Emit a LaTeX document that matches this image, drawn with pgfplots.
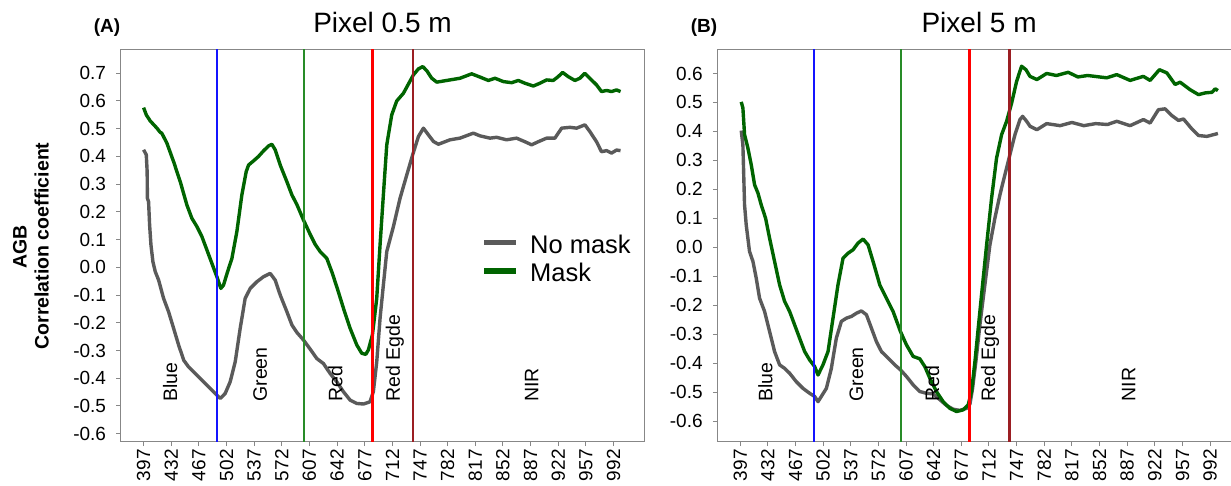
\documentclass[border=0pt]{standalone}
\usepackage{fontspec}
\setmainfont{Liberation Sans}
\usepackage{pgfplots}
\pgfplotsset{compat=1.18}
\definecolor{nomask}{RGB}{90,90,90}
\definecolor{mask}{RGB}{0,100,0}
\definecolor{vblue}{RGB}{20,20,255}
\definecolor{vgreen}{RGB}{40,140,40}
\definecolor{vred}{RGB}{255,0,0}
\definecolor{vdred}{RGB}{155,30,35}
\definecolor{axgray}{RGB}{135,135,135}
\tikzset{
  curve/.style={line width=3.4pt, line join=round},
  band/.style={rotate=90, anchor=west, inner sep=0pt, font=\fontsize{19.5}{22}\selectfont},
}
\pgfplotsset{
  panel/.style={
    scale only axis, width=523.6pt, height=392pt, anchor=south west,
    xmin=368, xmax=1031,
    xtick={397,432,...,992},
    xticklabels={397,432,467,502,537,572,607,642,677,712,747,782,817,852,887,922,957,992},
    tick align=outside, major tick length=4.5pt,
    xtick pos=left, ytick pos=left,
    axis line style={axgray, line width=1pt},
    tick style={axgray, line width=1pt},
    ticklabel style={font=\fontsize{19}{21}\selectfont, inner sep=0pt},
    xticklabel style={rotate=90, anchor=east},
    yticklabel style={anchor=east},
    xticklabel shift=3pt,
    yticklabel shift=10pt,
    title style={font=\fontsize{28}{32}\selectfont, anchor=base, at={(0.5,1)}, yshift=11.4pt},
    clip=true,
  },
}
\begin{document}
\begin{tikzpicture}
\useasboundingbox (0pt,0pt) rectangle (1231pt,485pt);
\clip (0pt,0pt) rectangle (1231pt,485pt);
% ---------------- Panel A ----------------
\begin{axis}[panel, at={(120.7pt,43.3pt)},
  ymin=-0.629, ymax=0.785,
  ytick={-0.6,-0.5,-0.4,-0.3,-0.2,-0.1,0,0.1,0.2,0.3,0.4,0.5,0.6,0.7},
  yticklabels={-0.6,-0.5,-0.4,-0.3,-0.2,-0.1,0.0,0.1,0.2,0.3,0.4,0.5,0.6,0.7},
  title={Pixel 0.5 m},
  legend style={at={(0.689,0.4617)}, anchor=west, draw=none, fill=none, inner sep=0pt,
    font=\fontsize{25.5}{28}\selectfont, row sep=0pt,
    nodes={inner xsep=0pt, inner ysep=2.4pt, text height=18.6pt, text depth=5pt}},
  legend cell align=left,
  legend image code/.code={\draw[#1, line width=5.5pt, line cap=butt] (0pt,0.38em) -- (32pt,0.38em); \path (44pt,0pt);},
]
\addplot[curve, nomask] coordinates {
(397,0.424) (400.4,0.406) (401.5,0.345) (401.8,0.249) (403.3,0.237) (404.6,0.153)
(406.3,0.081) (408.8,0.020) (411.8,-0.016) (416,-0.046) (422.3,-0.112) (428.6,-0.160)
(435,-0.220) (441.3,-0.280) (447.8,-0.335) (453.9,-0.359) (462.4,-0.383) (470.8,-0.407)
(479.2,-0.431) (487.7,-0.455) (494,-0.473) (500.3,-0.455) (506.6,-0.413) (513,-0.341)
(519.3,-0.220) (525.6,-0.112) (532,-0.076) (540.4,-0.052) (548.8,-0.034) (557.3,-0.022)
(563.6,-0.046) (570,-0.100) (578.4,-0.160) (584.8,-0.208) (591.1,-0.235) (599.4,-0.262)
(607.9,-0.295) (616.3,-0.329) (624.7,-0.347) (633.2,-0.383) (641.6,-0.413) (650.1,-0.449)
(658.5,-0.479) (666.9,-0.491) (675.3,-0.493) (683.7,-0.485) (687.9,-0.449) (692.2,-0.341)
(696.4,-0.184) (700.6,-0.064) (704.9,0.057) (713.3,0.147) (721.7,0.249) (730.2,0.333)
(737.7,0.406) (745,0.472) (751.3,0.502) (757.6,0.478) (764,0.454) (770.3,0.444)
(785,0.460) (797.6,0.466) (814.5,0.484) (823.2,0.474) (835.6,0.466) (844,0.469)
(856.6,0.460) (869.2,0.466) (879.9,0.453) (888.3,0.442) (896.7,0.453) (907.3,0.466)
(917.8,0.466) (926.3,0.502) (936.8,0.505) (945.3,0.502) (955.8,0.514) (962,0.490)
(970.5,0.453) (976.8,0.417) (983.2,0.421) (989.5,0.412) (995.8,0.423) (1000.9,0.421)
};
\addlegendentry{No mask}
\addplot[curve, mask] coordinates {
(397,0.576) (400.4,0.550) (405.4,0.528) (413.9,0.502) (418,0.487) (420,0.484)
(426.5,0.448) (435,0.381) (443.4,0.309) (451.8,0.225) (458.1,0.177) (464.5,0.147)
(470.8,0.111) (477.1,0.063) (483.5,0.014) (489.8,-0.034) (494.8,-0.076) (498.2,-0.064)
(503.3,-0.016) (508.8,0.032) (515.1,0.129) (521.4,0.261) (526.9,0.345) (529.9,0.369)
(536.2,0.384) (542.5,0.400) (548.8,0.420) (555.2,0.438) (559.4,0.444) (563.6,0.424)
(570,0.369) (578.4,0.309) (584.8,0.261) (591,0.227) (599.4,0.171) (607.9,0.119)
(614.2,0.083) (620.5,0.057) (629,0.032) (635.3,-0.016) (641.6,-0.070) (650.1,-0.148)
(658.5,-0.220) (666.9,-0.280) (673.2,-0.310) (678.3,-0.314) (681.6,-0.298) (686.7,-0.244)
(692.2,-0.112) (696.4,0.081) (700.6,0.261) (704.9,0.442) (711.2,0.550) (717.5,0.600)
(726,0.628) (732.3,0.661) (738.6,0.694) (745,0.716) (750.5,0.724) (755.6,0.709)
(761.9,0.682) (768.2,0.668) (785,0.676) (797.6,0.682) (812.4,0.698) (823.2,0.686)
(833.6,0.674) (842,0.682) (852.5,0.670) (863.1,0.666) (871.5,0.674) (879.9,0.664)
(890.5,0.654) (898.8,0.664) (907.3,0.676) (915.7,0.674) (922,0.688) (927.6,0.703)
(934.6,0.688) (943.1,0.674) (949.4,0.682) (955.7,0.700) (962,0.682) (970.5,0.658)
(976.8,0.634) (983.2,0.638) (989.5,0.634) (995.8,0.640) (1000.9,0.634)
};
\addlegendentry{Mask}
\addplot[forget plot, draw=vblue, line width=2pt] coordinates {(490,-0.7) (490,0.9)};
\addplot[forget plot, draw=vgreen, line width=2pt] coordinates {(600.2,-0.7) (600.2,0.9)};
\addplot[forget plot, draw=vred, line width=2.6pt] coordinates {(687,-0.7) (687,0.9)};
\addplot[forget plot, draw=vdred, line width=2.4pt] coordinates {(738,-0.7) (738,0.9)};
\node[band] at (axis cs:430.5,-0.485) {Blue};
\node[band] at (axis cs:544.5,-0.485) {Green};
\node[band] at (axis cs:640,-0.485) {Red};
\node[band] at (axis cs:715,-0.485) {Red Egde};
\node[band] at (axis cs:888.5,-0.485) {NIR};
\end{axis}
% ---------------- Panel B ----------------
\begin{axis}[panel, at={(717.3pt,43.3pt)},
  ymin=-0.670, ymax=0.682,
  ytick={-0.6,-0.5,-0.4,-0.3,-0.2,-0.1,0,0.1,0.2,0.3,0.4,0.5,0.6},
  yticklabels={-0.6,-0.5,-0.4,-0.3,-0.2,-0.1,0.0,0.1,0.2,0.3,0.4,0.5,0.6},
  title={Pixel 5 m},
]
\addplot[curve, nomask] coordinates {
(398.3,0.403) (400.4,0.354) (402.5,0.147) (404.6,0.078) (408.8,-0.014) (413.1,-0.048)
(417.3,-0.106) (421.5,-0.175) (427.9,-0.221) (434.2,-0.290) (440.5,-0.359) (446.9,-0.405)
(453.2,-0.417) (459.6,-0.434) (468,-0.463) (476.5,-0.486) (484.9,-0.503) (491.3,-0.514)
(495.5,-0.532) (499.7,-0.514) (506.1,-0.486) (512.4,-0.417) (518.7,-0.313) (525.1,-0.255)
(531.4,-0.244) (537.8,-0.238) (544.1,-0.227) (550.4,-0.219) (556.8,-0.232) (563.1,-0.278)
(569.5,-0.325) (575.8,-0.359) (584.3,-0.382) (592.7,-0.405) (599.9,-0.422) (607.5,-0.445)
(616,-0.474) (624.4,-0.497) (632.9,-0.503) (641.3,-0.505) (649.8,-0.525) (658.2,-0.545)
(666.7,-0.558) (675.1,-0.562) (683.6,-0.555) (687.9,-0.540) (691.2,-0.486) (695.4,-0.394)
(700.5,-0.267) (706.8,-0.129) (713.2,0.009) (719.5,0.101) (725.9,0.182) (732.2,0.251)
(738.5,0.320) (744.9,0.389) (751.2,0.441) (754.6,0.452) (759.7,0.435) (763.9,0.418)
(772.7,0.406) (785,0.427) (802,0.420) (817,0.431) (832,0.420) (847,0.427)
(862,0.424) (873.8,0.435) (890.7,0.420) (907.5,0.441) (916,0.429) (926.5,0.475)
(935,0.478) (943.5,0.455) (951.9,0.438) (958.3,0.443) (968.8,0.409) (977.3,0.386)
(987.9,0.383) (996.4,0.389) (1001.9,0.393)
};
\addplot[curve, mask] coordinates {
(398.3,0.502) (400.4,0.481) (402.5,0.389) (406.7,0.343) (411,0.285) (415.2,0.216)
(419.4,0.188) (423.6,0.147) (429.1,0.101) (434.2,0.032) (440.5,-0.048) (446.9,-0.129)
(453.2,-0.186) (459.6,-0.221) (465.9,-0.267) (472.2,-0.313) (478.6,-0.359) (484.9,-0.388)
(491.3,-0.411) (495.5,-0.440) (501.8,-0.405) (508.2,-0.359) (514.5,-0.244) (520.8,-0.129)
(527.2,-0.037) (533.5,-0.020) (539.9,-0.008) (546.2,0.015) (552.6,0.029) (558.9,0.009)
(565.2,-0.048) (573.7,-0.129) (582.1,-0.175) (590.6,-0.221) (599.9,-0.290) (607.5,-0.336)
(616,-0.376) (624.4,-0.384) (630.8,-0.411) (637.1,-0.451) (645.5,-0.497) (654,-0.532)
(662.5,-0.555) (670.9,-0.566) (679.4,-0.560) (685.7,-0.543) (689.9,-0.497) (694.2,-0.394)
(698.4,-0.278) (702.6,-0.163) (709,0.009) (715.3,0.170) (721.6,0.308) (728,0.389)
(734.3,0.435) (740.7,0.498) (747,0.573) (753.3,0.625) (758.8,0.613) (763.9,0.590)
(772.7,0.579) (785,0.600) (797.4,0.593) (812.3,0.604) (824.6,0.588) (837,0.593)
(851.8,0.588) (861.1,0.585) (873.8,0.596) (890.7,0.576) (907.5,0.590) (916,0.576)
(927.8,0.613) (937.2,0.602) (947.7,0.562) (954,0.570) (966.7,0.544) (977.3,0.527)
(985.8,0.533) (994.3,0.535) (998.5,0.547) (1001.9,0.541)
};
\addplot[forget plot, draw=vblue, line width=2pt] coordinates {(490,-0.8) (490,0.8)};
\addplot[forget plot, draw=vgreen, line width=2pt] coordinates {(600.2,-0.8) (600.2,0.8)};
\addplot[forget plot, draw=vred, line width=2.6pt] coordinates {(687,-0.8) (687,0.8)};
\addplot[forget plot, draw=vdred, line width=2.4pt] coordinates {(738,-0.8) (738,0.8)};
\node[band] at (axis cs:429,-0.532) {Blue};
\node[band] at (axis cs:544,-0.532) {Green};
\node[band] at (axis cs:640,-0.532) {Red};
\node[band] at (axis cs:713.5,-0.532) {Red Egde};
\node[band] at (axis cs:889,-0.532) {NIR};
\end{axis}
% ---------------- labels ----------------
\node[anchor=base, font=\bfseries\fontsize{19}{21}\selectfont, inner sep=0pt] at (107pt,452pt) {(A)};
\node[anchor=base, font=\bfseries\fontsize{19}{21}\selectfont, inner sep=0pt] at (704pt,452pt) {(B)};
\node[rotate=90, font=\bfseries\fontsize{19.5}{22}\selectfont, inner sep=0pt] at (20pt,238pt) {AGB};
\node[rotate=90, font=\bfseries\fontsize{19.5}{22}\selectfont, inner sep=0pt] at (41.7pt,239pt) {Correlation coefficient};
\end{tikzpicture}
\end{document}
